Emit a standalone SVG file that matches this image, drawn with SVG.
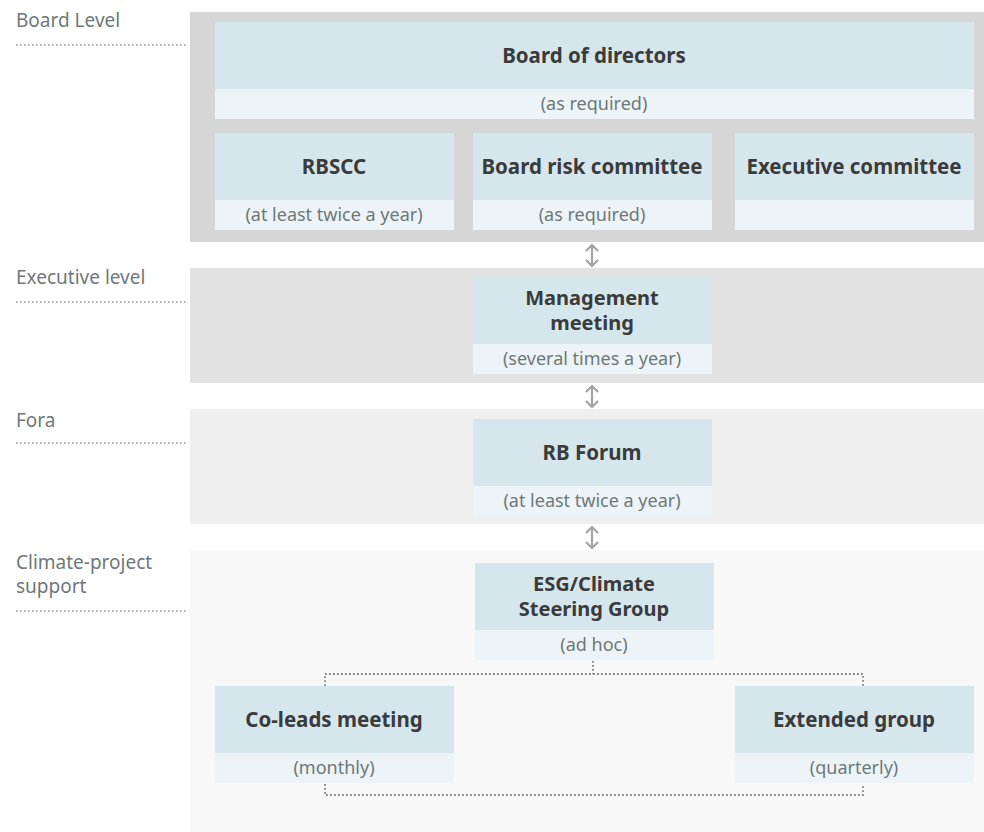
<svg xmlns="http://www.w3.org/2000/svg" width="984" height="832" viewBox="0 0 984 832">
<defs>
<style>
.band1{fill:#d6d6d6}.band2{fill:#e2e2e2}.band3{fill:#efefef}.band4{fill:#f8f8f8}
.hd{fill:#d5e7ed}.sub{fill:#ecf4f7}
.t{font-family:"Noto Sans","Open Sans",sans-serif;font-weight:bold;font-size:20.5px;fill:#3b3b3b;text-anchor:middle}
.t2{font-size:20px}
.s{font-family:"Noto Sans","Open Sans",sans-serif;font-size:18px;fill:#6f7878;text-anchor:middle}
.lbl{font-family:"Noto Sans","Open Sans",sans-serif;font-size:19px;fill:#6f7878}
.dots{stroke:#858585;stroke-width:1.8;stroke-dasharray:1.8 2.2;fill:none}
.ldots{stroke:#9a9a9a;stroke-width:1.6;stroke-dasharray:1.6 2.4;fill:none}
.arr{stroke:#a3a3a3;stroke-width:2.2;fill:none}
</style>
</defs>
<g id="bands">
<rect class="band1" x="190" y="12" width="794" height="230"/>
<rect class="band2" x="190" y="268" width="794" height="115"/>
<rect class="band3" x="190" y="409" width="794" height="115"/>
<rect class="band4" x="190" y="551" width="794" height="281"/>
</g>
<g id="labels">
<text class="lbl" x="16" y="27">Board Level</text>
<line class="ldots" x1="16" y1="45" x2="188" y2="45"/>
<text class="lbl" x="16" y="284">Executive level</text>
<line class="ldots" x1="16" y1="302" x2="188" y2="302"/>
<text class="lbl" x="16" y="427">Fora</text>
<line class="ldots" x1="16" y1="443" x2="188" y2="443"/>
<text class="lbl" x="16" y="569"><tspan x="16" y="569">Climate-project</tspan><tspan x="16" y="593">support</tspan></text>
<line class="ldots" x1="16" y1="611" x2="188" y2="611"/>
</g>
<g id="board-of-directors">
<rect class="hd" x="215" y="22" width="759" height="67"/>
<rect class="sub" x="215" y="89" width="759" height="30"/>
<text class="t" x="594" y="63">Board of directors</text>
<text class="s" x="594" y="110">(as required)</text>
</g>
<g id="rbscc">
<rect class="hd" x="215" y="133" width="239" height="67"/>
<rect class="sub" x="215" y="200" width="239" height="30"/>
<text class="t" x="334" y="174">RBSCC</text>
<text class="s" x="334" y="221">(at least twice a year)</text>
</g>
<g id="board-risk-committee">
<rect class="hd" x="473" y="133" width="239" height="67"/>
<rect class="sub" x="473" y="200" width="239" height="30"/>
<text class="t" x="592" y="174">Board risk committee</text>
<text class="s" x="592" y="221">(as required)</text>
</g>
<g id="executive-committee">
<rect class="hd" x="735" y="133" width="239" height="67"/>
<rect class="sub" x="735" y="200" width="239" height="30"/>
<text class="t" x="854" y="174">Executive committee</text>
</g>
<g id="management-meeting">
<rect class="hd" x="473" y="277" width="239" height="67"/>
<rect class="sub" x="473" y="344" width="239" height="30"/>
<text class="t t2" x="592" y="305"><tspan x="592" y="305">Management</tspan><tspan x="592" y="330">meeting</tspan></text>
<text class="s" x="592" y="365">(several times a year)</text>
</g>
<g id="rb-forum">
<rect class="hd" x="473" y="419" width="239" height="67"/>
<rect class="sub" x="473" y="486" width="239" height="30"/>
<text class="t" x="592" y="460">RB Forum</text>
<text class="s" x="592" y="507">(at least twice a year)</text>
</g>
<g id="esg-climate-steering-group">
<rect class="hd" x="475" y="563" width="239" height="67"/>
<rect class="sub" x="475" y="630" width="239" height="30"/>
<text class="t t2" x="594" y="591"><tspan x="594" y="591">ESG/Climate</tspan><tspan x="594" y="616">Steering Group</tspan></text>
<text class="s" x="594" y="651">(ad hoc)</text>
</g>
<g id="co-leads-meeting">
<rect class="hd" x="215" y="686" width="239" height="67"/>
<rect class="sub" x="215" y="753" width="239" height="30"/>
<text class="t" x="334" y="727">Co-leads meeting</text>
<text class="s" x="334" y="774">(monthly)</text>
</g>
<g id="extended-group">
<rect class="hd" x="735" y="686" width="239" height="67"/>
<rect class="sub" x="735" y="753" width="239" height="30"/>
<text class="t" x="854" y="727">Extended group</text>
<text class="s" x="854" y="774">(quarterly)</text>
</g>
<g id="connectors">
<g class="arr">
<line x1="592" y1="245" x2="592" y2="266"/>
<polyline points="586,251 592,245 598,251"/>
<polyline points="586,260 592,266 598,260"/>
<line x1="592" y1="386" x2="592" y2="407"/>
<polyline points="586,392 592,386 598,392"/>
<polyline points="586,401 592,407 598,401"/>
<line x1="592" y1="527" x2="592" y2="548"/>
<polyline points="586,533 592,527 598,533"/>
<polyline points="586,542 592,548 598,542"/>
</g>
<polyline class="dots" points="593,661 593,674"/>
<polyline class="dots" points="325,686 325,674 863,674 863,686"/>
<polyline class="dots" points="325,784 325,795 863,795 863,784"/>
</g>
</svg>
